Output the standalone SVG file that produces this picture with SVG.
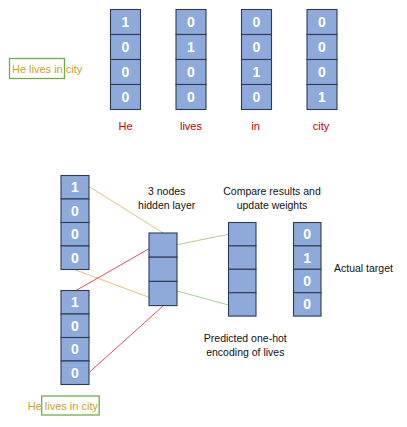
<svg xmlns="http://www.w3.org/2000/svg" width="407" height="427" viewBox="0 0 407 427">
<style>
.c{fill:#8eaadb;stroke:#2f3b55;stroke-width:1.1}
.n{font-family:"Liberation Sans",Arial,sans-serif;font-size:14px;font-weight:bold;fill:#ffffff;text-anchor:middle}
.w{font-family:"Liberation Sans",Arial,sans-serif;font-size:11px;fill:#c00000;text-anchor:middle}
.t{font-family:"Liberation Sans",Arial,sans-serif;font-size:10.5px;fill:#111111;text-anchor:middle}
.g{font-family:"Liberation Sans",Arial,sans-serif;font-size:11px;fill:#c9a227}
.box{fill:none;stroke:#70ad47;stroke-width:1.3}
.tan{stroke:#e2c27e;stroke-width:1;fill:none}
.red{stroke:#d9535b;stroke-width:1;fill:none}
.grn{stroke:#a9cf8e;stroke-width:1;fill:none}
</style>
<rect width="407" height="427" fill="#ffffff"/>
<g id="sentence-top">
<rect class="box" x="9.5" y="58.5" width="55" height="20"/>
<text class="g" x="12" y="73">He lives in city</text>
</g>
<g id="vec-he">
<rect class="c" x="110.5" y="9.5" width="30" height="25"/><rect class="c" x="110.5" y="34.5" width="30" height="25"/><rect class="c" x="110.5" y="59.5" width="30" height="25"/><rect class="c" x="110.5" y="84.5" width="30" height="25"/>
<text class="n" x="125.5" y="27">1</text><text class="n" x="125.5" y="52">0</text><text class="n" x="125.5" y="77">0</text><text class="n" x="125.5" y="102">0</text>
<text class="w" x="125.5" y="130">He</text>
</g>
<g id="vec-lives">
<rect class="c" x="176" y="9.5" width="30" height="25"/><rect class="c" x="176" y="34.5" width="30" height="25"/><rect class="c" x="176" y="59.5" width="30" height="25"/><rect class="c" x="176" y="84.5" width="30" height="25"/>
<text class="n" x="191" y="27">0</text><text class="n" x="191" y="52">1</text><text class="n" x="191" y="77">0</text><text class="n" x="191" y="102">0</text>
<text class="w" x="191" y="130">lives</text>
</g>
<g id="vec-in">
<rect class="c" x="241.5" y="9.5" width="30" height="25"/><rect class="c" x="241.5" y="34.5" width="30" height="25"/><rect class="c" x="241.5" y="59.5" width="30" height="25"/><rect class="c" x="241.5" y="84.5" width="30" height="25"/>
<text class="n" x="256.5" y="27">0</text><text class="n" x="256.5" y="52">0</text><text class="n" x="256.5" y="77">1</text><text class="n" x="256.5" y="102">0</text>
<text class="w" x="255.5" y="130">in</text>
</g>
<g id="vec-city">
<rect class="c" x="307" y="9.5" width="30" height="25"/><rect class="c" x="307" y="34.5" width="30" height="25"/><rect class="c" x="307" y="59.5" width="30" height="25"/><rect class="c" x="307" y="84.5" width="30" height="25"/>
<text class="n" x="322" y="27">0</text><text class="n" x="322" y="52">0</text><text class="n" x="322" y="77">0</text><text class="n" x="322" y="102">1</text>
<text class="w" x="321" y="130">city</text>
</g>
<g id="connectors">
<line class="tan" x1="89.3" y1="186.7" x2="163.3" y2="233"/>
<line class="tan" x1="74.3" y1="269.5" x2="149" y2="297.3"/>
<line class="red" x1="76" y1="290.5" x2="149" y2="248.7"/>
<line class="red" x1="89.3" y1="372.3" x2="163.3" y2="305.7"/>
<line class="grn" x1="177" y1="244.7" x2="228.5" y2="234.3"/>
<line class="grn" x1="177" y1="291" x2="228.5" y2="305"/>
</g>
<g id="input-a">
<rect class="c" x="61" y="175.5" width="28" height="23.5"/><rect class="c" x="61" y="199" width="28" height="23.5"/><rect class="c" x="61" y="222.5" width="28" height="23.5"/><rect class="c" x="61" y="246" width="28" height="23.5"/>
<text class="n" x="75" y="192.2">1</text><text class="n" x="75" y="215.7">0</text><text class="n" x="75" y="239.2">0</text><text class="n" x="75" y="262.7">0</text>
</g>
<g id="input-b">
<rect class="c" x="61" y="290.5" width="28" height="23.5"/><rect class="c" x="61" y="314" width="28" height="23.5"/><rect class="c" x="61" y="337.5" width="28" height="23.5"/><rect class="c" x="61" y="361" width="28" height="23.5"/>
<text class="n" x="75" y="307.2">1</text><text class="n" x="75" y="330.7">0</text><text class="n" x="75" y="354.2">0</text><text class="n" x="75" y="377.7">0</text>
</g>
<g id="hidden">
<rect class="c" x="149" y="233" width="28" height="24.2"/><rect class="c" x="149" y="257.2" width="28" height="24.2"/><rect class="c" x="149" y="281.4" width="28" height="24.2"/>
<text class="t" x="166.7" y="195">3 nodes</text>
<text class="t" x="166.7" y="208.5">hidden layer</text>
</g>
<g id="predicted">
<rect class="c" x="228.5" y="222.5" width="27.5" height="23.4"/><rect class="c" x="228.5" y="245.9" width="27.5" height="23.4"/><rect class="c" x="228.5" y="269.3" width="27.5" height="23.4"/><rect class="c" x="228.5" y="292.7" width="27.5" height="23.4"/>
<text class="t" x="245.3" y="342">Predicted one-hot</text>
<text class="t" x="245.3" y="356">encoding of lives</text>
</g>
<g id="target">
<rect class="c" x="293.5" y="222.5" width="27.5" height="23.4"/><rect class="c" x="293.5" y="245.9" width="27.5" height="23.4"/><rect class="c" x="293.5" y="269.3" width="27.5" height="23.4"/><rect class="c" x="293.5" y="292.7" width="27.5" height="23.4"/>
<text class="n" x="307.2" y="239.2">0</text><text class="n" x="307.2" y="262.6">1</text><text class="n" x="307.2" y="286">0</text><text class="n" x="307.2" y="309.4">0</text>
<text class="t" x="334" y="271.5" text-anchor="start" style="text-anchor:start">Actual target</text>
</g>
<g id="compare-label">
<text class="t" x="272" y="194.5">Compare results and</text>
<text class="t" x="272" y="208.5">update weights</text>
</g>
<g id="sentence-bottom">
<rect class="box" x="41.7" y="396" width="57.5" height="19"/>
<text class="g" x="27.7" y="410">He lives in city</text>
</g>
</svg>
